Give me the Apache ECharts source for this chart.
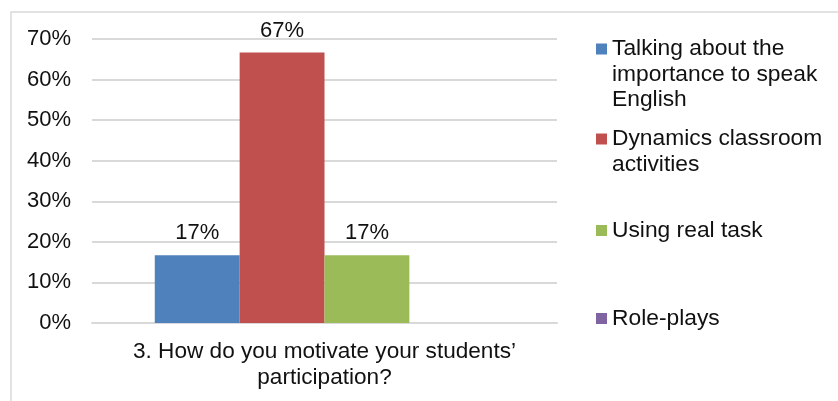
<!DOCTYPE html>
<html>
<head>
<meta charset="utf-8">
<script src="https://cdn.jsdelivr.net/npm/echarts@6/dist/echarts.min.js"></script>
<style>
  html, body { margin: 0; padding: 0; background: #fff; }
  #chart { width: 838px; height: 401px; }
</style>
</head>
<body>
<div id="chart"></div>
<script>
// Survey question and answer shares (percent of respondents)
const categories = ['3. How do you motivate your students\u2019\nparticipation?'];
const seriesNames = [
  'Talking about the\nimportance to speak\nEnglish',
  'Dynamics classroom\nactivities',
  'Using real task',
  'Role-plays'
];
const seriesValues = [16.67, 66.67, 16.67, 0];
const seriesColors = ['#4F81BD', '#C0504D', '#9BBB59', '#8064A2'];
const yTicks = { min: 0, max: 70, step: 10 };

const FONT = 'Liberation Sans, Arial, sans-serif';
const TEXT = '#111';
const GRID_LINE = '#d9d9d9';

// Vertical centre of each legend square, and the line height of legend text
const legendIconY = [49, 139, 230.5, 318.5];
const legendLineH = 25.5;

// One legend per answer so each square sits beside the first line of its text
const legends = seriesNames.map((name, i) => {
  const lines = name.split('\n').length;
  // pad with blank lines above so the first text line is centred on the square
  const pad = '\n'.repeat(lines - 1);
  const totalLines = lines * 2 - 1;
  return {
    data: [name],
    orient: 'vertical',
    left: 596,
    top: legendIconY[i] - (totalLines * legendLineH) / 2,
    padding: 0,
    itemWidth: 11,
    itemHeight: 11,
    icon: 'rect',
    selectedMode: false,
    formatter: (n) => pad + n,
    textStyle: {
      fontFamily: FONT,
      fontSize: 22.8,
      color: TEXT,
      lineHeight: legendLineH
    }
  };
});

const series = seriesNames.map((name, i) => ({
  name: name,
  type: 'bar',
  data: [seriesValues[i]],
  barGap: 0,
  barCategoryGap: '27%',
  itemStyle: { color: seriesColors[i] },
  label: {
    show: seriesValues[i] > 0,
    position: 'top',
    distance: 11,
    fontFamily: FONT,
    fontSize: 22,
    color: TEXT,
    formatter: (p) => Math.round(p.value) + '%'
  }
}));

const chart = echarts.init(document.getElementById('chart'), null, { renderer: 'canvas' });
chart.setOption({
  backgroundColor: '#fff',
  animation: false,
  grid: { left: 92, right: 281, top: 39, bottom: 78, containLabel: false },
  graphic: [{
    type: 'rect',
    silent: true,
    shape: { x: 11, y: 12, width: 1000, height: 1000 },
    style: { fill: 'none', stroke: GRID_LINE, lineWidth: 1.5 }
  }],
  legend: legends,
  xAxis: {
    type: 'category',
    data: categories,
    axisTick: { show: false },
    axisLine: { show: true, lineStyle: { color: GRID_LINE, width: 2 } },
    axisLabel: {
      margin: 16,
      fontFamily: FONT,
      fontSize: 22.6,
      lineHeight: 26,
      color: TEXT,
      align: 'center'
    }
  },
  yAxis: {
    type: 'value',
    min: yTicks.min,
    max: yTicks.max,
    interval: yTicks.step,
    axisLine: { show: false },
    axisTick: { show: false },
    splitLine: { lineStyle: { color: GRID_LINE, width: 2 } },
    axisLabel: {
      margin: 21,
      fontFamily: FONT,
      fontSize: 22,
      color: TEXT,
      formatter: '{value}%'
    }
  },
  series: series
});
</script>
</body>
</html>
